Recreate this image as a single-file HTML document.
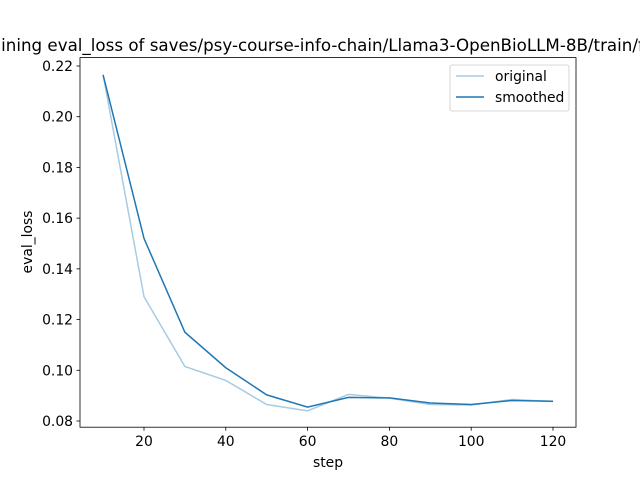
<!DOCTYPE html>
<html><head><meta charset="utf-8"><style>
html,body{margin:0;padding:0;background:#fff;overflow:hidden;}
svg{display:block;font-family:"DejaVu Sans","Liberation Sans",sans-serif;}
</style></head><body>
<svg id="chart" width="640" height="480" viewBox="0 0 640 480">
<rect width="640" height="480" fill="#fff"/>
<text x="320" y="51" text-anchor="middle" font-size="16.7">Training eval_loss of saves/psy-course-info-chain/Llama3-OpenBioLLM-8B/train/full</text>
<g id="plot"></g>
<rect x="80" y="57.6" width="496" height="369.6" fill="none" stroke="#000" stroke-width="0.8"/>
<text x="328" y="467" text-anchor="middle" font-size="13.9">step</text>
<text transform="translate(32,242) rotate(-90)" text-anchor="middle" font-size="13.9">eval_loss</text>
<g>
<rect x="450" y="65" width="119" height="46" rx="2" fill="#fff" stroke="#ccc" stroke-width="0.8"/>
<line x1="456" y1="76" x2="484" y2="76" stroke="#a6cbe3" stroke-width="1.5"/>
<text x="495" y="81" font-size="13.9">original</text>
<line x1="456" y1="97" x2="484" y2="97" stroke="#1f77b4" stroke-width="1.5"/>
<text x="495" y="102" font-size="13.9">smoothed</text>
</g>
</svg>
<script>
const steps=[10,20,30,40,50,60,70,80,90,100,110,120];
const original=[0.2165,0.129,0.1015,0.096,0.0865,0.084,0.0905,0.089,0.0865,0.0863,0.0885,0.0877];
const smoothed=[0.2165,0.152,0.115,0.101,0.0903,0.0855,0.0893,0.0891,0.0871,0.0865,0.0881,0.0878];
const xTicks=[20,40,60,80,100,120];
const yTicks=[0.08,0.10,0.12,0.14,0.16,0.18,0.20,0.22];
const NS="http://www.w3.org/2000/svg";
function xs(v){return 144+(v-20)*(553-144)/100;}
function ys(v){return 421-(v-0.08)*(421-66)/0.14;}
const g=document.getElementById('plot');
function mk(t,a){const e=document.createElementNS(NS,t);for(const k in a)e.setAttribute(k,a[k]);g.appendChild(e);return e;}
xTicks.forEach(t=>{
 const l=mk('line',{x1:xs(t),x2:xs(t),y1:427.2,y2:430.7,stroke:'#000','stroke-width':0.8});
 
 
 const tx=mk('text',{x:xs(t),y:446,'text-anchor':'middle','font-size':13.9});
 tx.textContent=t;
 
 
});
yTicks.forEach(t=>{
 const l=mk('line',{x1:76.5,x2:80,y1:ys(t),y2:ys(t),stroke:'#000','stroke-width':0.8});
 
 
 const tx=mk('text',{x:73,y:ys(t)+5,'text-anchor':'end','font-size':13.9});
 tx.textContent=t.toFixed(2);
 
 
});
const p1=mk('polyline',{points:steps.map((s,i)=>xs(s)+','+ys(original[i])).join(' '),fill:'none',stroke:'#a6cbe3','stroke-width':1.5});


const p2=mk('polyline',{points:steps.map((s,i)=>xs(s)+','+ys(smoothed[i])).join(' '),fill:'none',stroke:'#1f77b4','stroke-width':1.5});


</script>
</body></html>
